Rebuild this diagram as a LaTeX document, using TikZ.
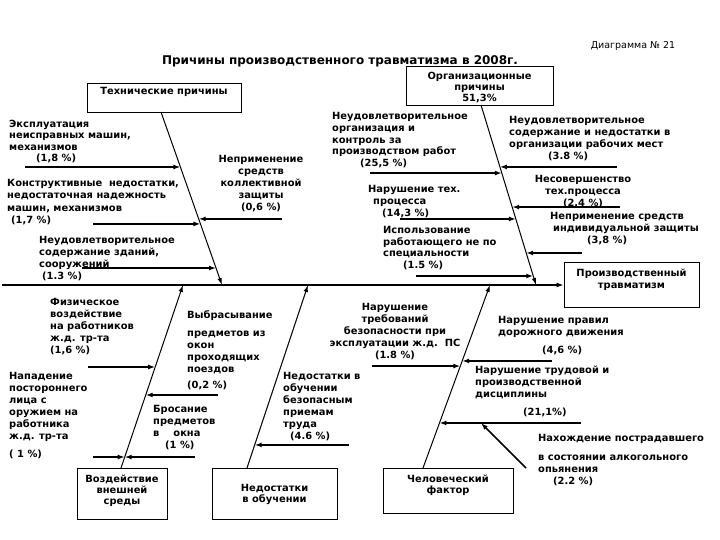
\documentclass[tikz,border=0pt]{standalone}
\usepackage{fontspec}
\setmainfont{DejaVu Sans}
\usepackage{tikz}
\usetikzlibrary{arrows.meta, calc}

\tikzset{
    lbl/.style={font=\bfseries\fontsize{9.9}{12}\selectfont, inner sep=0pt, align=left, anchor=north west},
    lblc/.style={lbl, align=center, anchor=north},
    causebox/.style={draw, line width=0.8pt, inner sep=0pt},
    spine/.style={line width=2pt, -{Latex[length=7pt, width=5pt]}},
    bone/.style={line width=1pt, -{Latex[length=7pt, width=4.5pt]}},
    twig/.style={line width=1.6pt, -{Latex[length=7pt, width=5pt]}},
}

\begin{document}
\begin{tikzpicture}[x=1pt, y=-1pt]
    \useasboundingbox (0,0) rectangle (720,540);

    % --- Заголовок ---
    \node[font=\bfseries\fontsize{12}{14}\selectfont, inner sep=0pt] (title) at (340,61) {Причины производственного травматизма в 2008г.};
    \node[font=\fontsize{9.5}{11}\selectfont, inner sep=0pt] (dianr) at (633,46) {Диаграмма № 21};

    % --- Хребет ---
    \node[causebox, minimum width=135pt, minimum height=45pt] (prod) at (631.5,285) {};
    \node[lblc, font=\bfseries\fontsize{9.9}{12.5}\selectfont] (prodtxt) at ($(prod.north)+(0,6.5)$) {Производственный\\травматизм};
    \coordinate (spL) at (2,285);
    \draw[spine] (spL) -- (prod);

    % --- Технические причины ---
    \node[causebox, minimum width=154pt, minimum height=29pt] (tech) at (164,97.5) {};
    \node[lblc] (techtxt) at ($(tech.north)+(0,4.5)$) {Технические причины};
    \coordinate (techA) at (161,112);
    \coordinate (techS) at (222,285);
    \draw[bone] (techA) -- (techS);

    \coordinate (ta1) at ($(techA)!0.318!(techS)$);
    \coordinate (ta2) at ($(techA)!0.647!(techS)$);
    \coordinate (ta3) at ($(techA)!0.902!(techS)$);
    \coordinate (ta4) at ($(techA)!0.618!(techS)$);
    \draw[twig] (ta1 -| 25,0) -- (ta1);
    \draw[twig] (ta2 -| 93,0) -- (ta2);
    \draw[twig] (ta3 -| 82,0) -- (ta3);
    \draw[twig] (ta4 -| 282,0) -- (ta4);

    \node[lbl, font=\bfseries\fontsize{9.9}{11.3}\selectfont] (ekspl) at (9,120) {Эксплуатация\\неисправных машин,\\механизмов\\\hspace*{27pt}(1,8 \%)};
    \node[lbl, font=\bfseries\fontsize{9.9}{12.3}\selectfont] (konstr) at (7,179) {Конструктивные\ \ недостатки,\\недостаточная надежность\\машин, механизмов\\\hspace*{4pt}(1,7 \%)};
    \node[lbl] (zdan) at (39,236) {Неудовлетворительное\\содержание зданий,\\сооружений\\\hspace*{3pt}(1.3 \%)};
    \node[lblc] (kollekt) at (261,155) {Неприменение\\средств\\коллективной\\защиты\\(0,6 \%)};

    % --- Организационные причины ---
    \node[causebox, minimum width=147pt, minimum height=39pt] (org) at (479.5,85.5) {};
    \node[lblc, font=\bfseries\fontsize{9.9}{11}\selectfont] (orgtxt) at ($(org.north)+(0,6)$) {Организационные\\причины\\51,3\%};
    \coordinate (orgA) at (481,105);
    \coordinate (orgS) at (536,285);
    \draw[bone] (orgA) -- (orgS);

    \coordinate (ob1) at ($(orgA)!0.378!(orgS)$);
    \coordinate (ob2) at ($(orgA)!0.633!(orgS)$);
    \coordinate (ob3) at ($(orgA)!0.95!(orgS)$);
    \coordinate (ob4) at ($(orgA)!0.344!(orgS)$);
    \coordinate (ob5) at ($(orgA)!0.567!(orgS)$);
    \coordinate (ob6) at ($(orgA)!0.822!(orgS)$);
    \draw[twig] (ob1 -| 370,0) -- (ob1);
    \draw[twig] (ob2 -| 400,0) -- (ob2);
    \draw[twig] (ob3 -| 416,0) -- (ob3);
    \draw[twig] (ob4 -| 617,0) -- (ob4);
    \draw[twig] (ob5 -| 620,0) -- (ob5);
    \draw[twig] (ob6 -| 582,0) -- (ob6);

    \node[lbl, font=\bfseries\fontsize{9.9}{11.8}\selectfont] (orgkontr) at (332,112) {Неудовлетворительное\\организация и\\контроль за\\производством работ\\\hspace*{28pt}(25,5 \%)};
    \node[lbl] (tehproc) at (368,185) {Нарушение тех.\\\hspace*{5pt}процесса\\\hspace*{14pt}(14,3 \%)};
    \node[lbl, font=\bfseries\fontsize{9.9}{11.7}\selectfont] (spec) at (383,226) {Использование\\работающего не по\\специальности\\\hspace*{20pt}(1.5 \%)};
    \node[lbl] (rabmest) at (509,116) {Неудовлетворительное\\содержание и недостатки в\\организации рабочих мест\\\hspace*{39pt}(3.8 \%)};
    \node[lblc] (nesov) at (583,175) {Несовершенство\\тех.процесса\\(2,4 \%)};
    \node[lbl] (individ) at (550,212) {Неприменение средств\\\hspace*{3pt}индивидуальной защиты\\\hspace*{37pt}(3,8 \%)};

    % --- Воздействие внешней среды ---
    \node[causebox, minimum width=90pt, minimum height=51pt] (vozd) at (122,493.5) {};
    \node[lblc, font=\bfseries\fontsize{9.9}{11.3}\selectfont] (vozdtxt) at ($(vozd.north)+(0,7)$) {Воздействие\\внешней\\среды};
    \coordinate (vozdA) at (121,468);
    \coordinate (vozdS) at (183,285);
    \draw[bone] (vozdA) -- (vozdS);

    \coordinate (vc1) at ($(vozdA)!0.552!(vozdS)$);
    \coordinate (vc2) at ($(vozdA)!0.060!(vozdS)$);
    \coordinate (vc4) at ($(vozdA)!0.399!(vozdS)$);
    \draw[twig] (vc1 -| 88,0) -- (vc1);
    \draw[twig] (vc2 -| 93,0) -- (vc2);
    \draw[twig] (vc2 -| 195,0) -- (vc2);
    \draw[twig] (vc4 -| 218,0) -- (vc4);

    \node[lbl] (fiz) at (50,298) {Физическое\\воздействие\\на работников\\ж.д. тр-та\\(1,6 \%)};
    \node[lbl] (napad) at (9,372) {Нападение\\постороннего\\лица с\\оружием на\\работника\\ж.д. тр-та\\[6pt]( 1 \%)};
    \node[lbl] (vybr) at (187,310) {Выбрасывание\\[6pt]предметов из\\окон\\проходящих\\поездов\\[4pt](0,2 \%)};
    \node[lbl] (bros) at (153,405) {Бросание\\предметов\\в\hspace*{14pt}окна\\\hspace*{12pt}(1 \%)};

    % --- Недостатки в обучении ---
    \node[causebox, minimum width=125pt, minimum height=51pt] (learn) at (274.5,493.5) {};
    \node[lblc, font=\bfseries\fontsize{9.9}{11.5}\selectfont] (learntxt) at ($(learn.north)+(0,16)$) {Недостатки\\в обучении};
    \coordinate (learnA) at (247,468);
    \coordinate (learnS) at (308,285);
    \draw[bone] (learnA) -- (learnS);

    \coordinate (ld1) at ($(learnA)!0.126!(learnS)$);
    \draw[twig] (ld1 -| 349,0) -- (ld1);

    \node[lbl] (obuch) at (283,372) {Недостатки в\\обучении\\безопасным\\приемам\\труда\\\hspace*{7pt}(4.6 \%)};

    % --- Человеческий фактор ---
    \node[causebox, minimum width=130pt, minimum height=45pt] (human) at (448,490.5) {};
    \node[lblc, font=\bfseries\fontsize{9.9}{11.5}\selectfont] (humantxt) at ($(human.north)+(0,7)$) {Человеческий\\фактор};
    \coordinate (humanA) at (423,468);
    \coordinate (humanS) at (490,285);
    \draw[bone] (humanA) -- (humanS);

    \coordinate (he1) at ($(humanA)!0.557!(humanS)$);
    \coordinate (he2) at ($(humanA)!0.585!(humanS)$);
    \coordinate (he3) at ($(humanA)!0.246!(humanS)$);
    \draw[twig] (he1 -| 372,0) -- (he1);
    \draw[twig] (he2 -| 552,0) -- (he2);
    \draw[twig] (he3 -| 581,0) -- (he3);
    \coordinate (alkS) at (526,468);
    \draw[twig] (alkS) -- (he3 -| 481,0);

    \node[lblc] (trebov) at (395,303) {Нарушение\\требований\\безопасности при\\эксплуатации ж.д.\ \ ПС\\(1.8 \%)};
    \node[lbl] (pdd) at (498,316) {Нарушение правил\\дорожного движения\\[6pt]\hspace*{44pt}(4,6 \%)};
    \node[lbl] (discip) at (475,366) {Нарушение трудовой и\\производственной\\дисциплины\\[6pt]\hspace*{48pt}(21,1\%)};
    \node[lbl] (alko) at (538,434) {Нахождение пострадавшего\\[7pt]в состоянии алкогольного\\опьянения\\\hspace*{15pt}(2.2 \%)};

\end{tikzpicture}
\end{document}
